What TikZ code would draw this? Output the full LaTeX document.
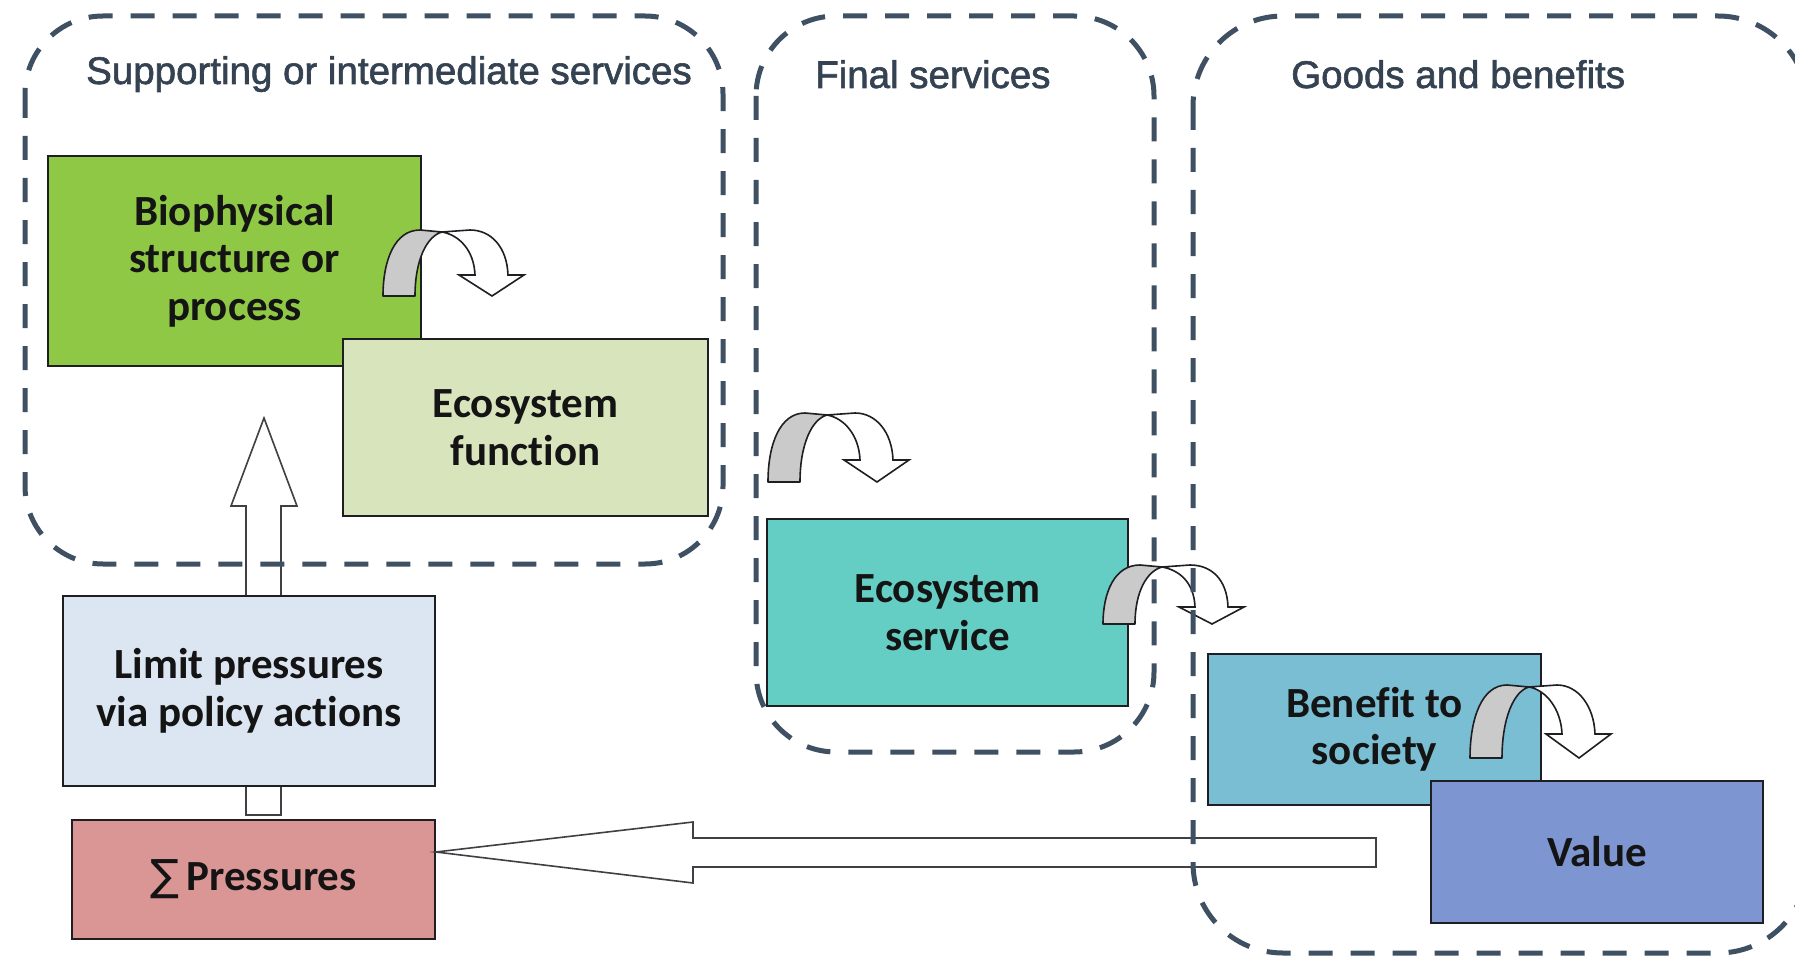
\documentclass[tikz,border=0pt]{standalone}
\usepackage{fontspec}
\setmainfont{Carlito}[Ligatures=NoCommon]
\newfontfamily\titlefont{Liberation Sans}[FakeBold=1.6]
\newfontfamily\sumfont{DejaVu Sans}
\definecolor{biocol}{RGB}{142,200,68}
\definecolor{funccol}{RGB}{215,228,188}
\definecolor{servcol}{RGB}{100,206,196}
\definecolor{bencol}{RGB}{122,190,212}
\definecolor{valcol}{RGB}{125,150,210}
\definecolor{limcol}{RGB}{220,230,242}
\definecolor{prescol}{RGB}{218,150,148}
\definecolor{curvegrey}{RGB}{202,202,202}
\definecolor{dashcol}{RGB}{62,80,98}
\definecolor{titlecol}{RGB}{52,66,82}
\definecolor{edgecol}{RGB}{30,30,35}
\tikzset{
  box/.style={draw=edgecol, line width=1.7pt, align=center, inner sep=0pt,
    font=\fontsize{43}{47.5}\selectfont\bfseries, text={black!92}},
  container/.style={draw=dashcol, line width=5pt, dash pattern=on 24pt off 18pt, rounded corners=#1},
  titletext/.style={anchor=base west, font=\titlefont\fontsize{38.5}{40}\selectfont, text=titlecol, inner sep=0pt},
  blockarrow/.style={draw=edgecol!85, line width=1.6pt, fill=white, line join=miter},
  shadepart/.style={draw=edgecol, line width=1.6pt, fill=curvegrey, line join=round},
  whitepart/.style={draw=edgecol, line width=1.6pt, fill=white, line join=miter},
}
\newcommand{\mycurvarrow}[4]{%
  \begin{scope}[shift={(#1,#2)}, yscale=-1]
    \filldraw[shadepart] (0,0) .. controls (0,{0.55*#3}) and (12,#3) .. (37,#3)
      -- (59,{#3-2}) .. controls (44,{#3-6}) and (32,{0.55*#3}) .. (32,0) -- cycle;
    \filldraw[whitepart] (59,{#3-2}) -- (87,#3) .. controls (108,#3) and (124,{#4+28}) .. (125,#4)
      -- (141,#4) -- (109,0) -- (76,#4) -- (92,#4)
      .. controls (91,{#4+25}) and (76,{#3-5}) .. (59,{#3-2}) -- cycle;
  \end{scope}}
\begin{document}
\begin{tikzpicture}[x=1pt, y=-1pt]
  \useasboundingbox (0,0) rectangle (1795,960);
  \clip (0,0) rectangle (1795,960);
  \fill[white] (0,0) rectangle (1795,960);

  % block arrow up (behind boxes)
  \coordinate (uptip) at (264,418);
  \draw[blockarrow] (246,815) -- (246,506) -- (231,506) -- (uptip) -- (297,506) -- (281,506) -- (281,815) -- cycle;

  % boxes
  \node[box, fill=biocol, minimum width=373pt, minimum height=210pt] (bio) at (234.5,261) {Biophysical\\structure or\\process};
  \node[box, fill=funccol, minimum width=365pt, minimum height=177pt] (func) at (525.5,427.5) {Ecosystem\\function};
  \node[box, fill=servcol, minimum width=361pt, minimum height=187pt] (serv) at (947.5,612.5) {Ecosystem\\service};
  \node[box, fill=bencol, minimum width=333pt, minimum height=151pt] (ben) at (1374.5,729.5) {Benefit to\\society};
  \node[box, fill=valcol, minimum width=332pt, minimum height=142pt] (val) at (1597,852) {Value};
  \node[box, fill=limcol, minimum width=372pt, minimum height=190pt] (lim) at (249,691) {Limit pressures\\via policy actions};
  \node[box, fill=prescol, minimum width=363pt, minimum height=119pt] (pres) at (253.5,879.5) {{\sumfont\mdseries ∑}\,Pressures};

  % left block arrow into pressures
  \coordinate (lefttip) at (pres.east |- 0,852);
  \draw[blockarrow] (1376,838) -- (693,838) -- (693,822) -- (lefttip) -- (693,883) -- (693,867) -- (1376,867) -- cycle;

  % curved arrows
  \mycurvarrow{383}{296}{66}{21}
  \mycurvarrow{768}{482}{69}{22}
  \mycurvarrow{1103}{624}{59}{17}
  \mycurvarrow{1470}{758}{73}{24}

  % dashed containers
  \draw[container=78pt] (25,16) rectangle (723,564);
  \draw[container=80pt] (756,16) rectangle (1154,752);
  \draw[container=90pt] (1193,16) rectangle (1808,953);

  % titles
  \node[titletext] (t1) at (86,84) {Supporting or intermediate services};
  \node[titletext] (t2) at (815,88) {Final services};
  \node[titletext] (t3) at (1291,88) {Goods and benefits};
\end{tikzpicture}
\end{document}
